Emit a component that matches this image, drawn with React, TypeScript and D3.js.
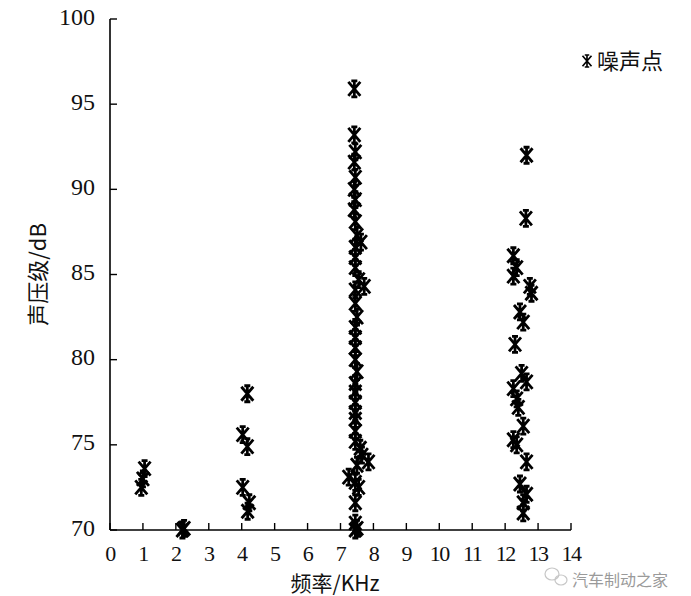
import React from "react";
import * as d3 from "d3";

const xTicks = [0, 1, 2, 3, 4, 5, 6, 7, 8, 9, 10, 11, 12, 13, 14];
const yTicks = [70, 75, 80, 85, 90, 95, 100];

// 噪声点 (frequency kHz, SPL dB)
const freq1 = [0.95, 1.0, 1.05, 2.2, 2.25];
const spl1 = [72.5, 73.0, 73.6, 70.0, 70.1];

const freq2 = [4.17, 4.03, 4.17, 4.03, 4.23, 4.18];
const spl2 = [78.0, 75.6, 74.9, 72.5, 71.6, 71.1];

const freq3 = [
  7.42, 7.42, 7.45, 7.42, 7.45, 7.42, 7.45, 7.42, 7.45, 7.5, 7.62, 7.45, 7.45, 7.45,
  7.55, 7.72, 7.45, 7.45, 7.5, 7.45, 7.45, 7.45, 7.45, 7.5, 7.45, 7.45, 7.45, 7.45,
  7.45, 7.45, 7.45, 7.6, 7.65, 7.85, 7.5, 7.25, 7.45, 7.55, 7.45, 7.45, 7.45, 7.5,
];
const spl3 = [
  95.9, 93.2, 92.2, 91.6, 90.7, 90.0, 89.4, 88.8, 88.1, 87.3, 86.9, 86.6, 86.0, 85.4,
  84.7, 84.3, 84.1, 83.3, 82.5, 81.9, 81.3, 80.7, 80.0, 79.3, 78.6, 78.1, 77.5, 76.9,
  76.5, 75.8, 75.2, 74.8, 74.4, 74.0, 73.8, 73.1, 72.8, 72.5, 71.6, 70.4, 70.0, 70.1,
];

const freq4 = [
  12.65, 12.63, 12.25, 12.35, 12.25, 12.75, 12.8, 12.45, 12.55, 12.3, 12.5, 12.65,
  12.25, 12.35, 12.4, 12.55, 12.25, 12.35, 12.65, 12.45, 12.65, 12.55, 12.55,
];
const spl4 = [
  92.0, 88.3, 86.1, 85.4, 84.9, 84.3, 83.9, 82.8, 82.2, 80.9, 79.2, 78.7, 78.3, 77.7,
  77.2, 76.1, 75.3, 75.0, 74.0, 72.7, 72.1, 71.6, 71.0,
];

const freqs = [...freq1, ...freq2, ...freq3, ...freq4];
const spls = [...spl1, ...spl2, ...spl3, ...spl4];

const W = 691;
const H = 596;
const left = 110;
const right = 571;
const top = 19;
const bottom = 530;

const numFont = "\"Liberation Serif\", \"Times New Roman\", \"DejaVu Serif\", serif";
const cjkFont = "\"Noto Sans CJK SC\", sans-serif";

const markerPath =
  "M-6,-7L6,7M6,-7L-6,7M0,-8L0,8M-3,-8L3,-8M-3,8L3,8";

export default function App() {
  const x = d3.scaleLinear().domain([0, 14]).range([left, right]);
  const y = d3.scaleLinear().domain([70, 100]).range([bottom, top]);

  return (
    <svg
      width={W}
      height={H}
      style={{ position: "absolute", left: 0, top: 0, background: "#fff" }}
    >
      <rect x={0} y={0} width={W} height={H} fill="#fff" />
      {/* axes */}
      <line x1={left} y1={top} x2={left} y2={bottom} stroke="#000" strokeWidth={1.6} />
      <line x1={left} y1={bottom} x2={right} y2={bottom} stroke="#000" strokeWidth={1.6} />
      {yTicks.map((t) => (
        <g key={"y" + t}>
          <line x1={left} x2={left + 7} y1={y(t)} y2={y(t)} stroke="#000" strokeWidth={1.4} />
          <text
            x={95}
            y={y(t)}
            textAnchor="end"
            dominantBaseline="middle"
            style={{ fontFamily: numFont, fontSize: 24 }}
            fill="#111"
          >
            {t}
          </text>
        </g>
      ))}
      {xTicks.map((t) => (
        <g key={"x" + t}>
          <line x1={x(t)} x2={x(t)} y1={bottom} y2={bottom - 7} stroke="#000" strokeWidth={1.4} />
          <text
            x={x(t)}
            y={561}
            textAnchor="middle"
            style={{ fontFamily: numFont, fontSize: 22, letterSpacing: "-1.5px" }}
            fill="#111"
          >
            {t}
          </text>
        </g>
      ))}
      {/* points */}
      {freqs.map((f, i) => (
        <path
          key={"p" + i}
          d={markerPath}
          transform={`translate(${x(f)},${y(spls[i])})`}
          stroke="#000"
          strokeWidth={2.8}
          fill="none"
        />
      ))}
      {/* axis titles */}
      <text
        x={335}
        y={591}
        textAnchor="middle"
        style={{ fontFamily: cjkFont, fontSize: 21 }}
        fill="#111"
      >
        频率/KHz
      </text>
      <text
        transform={`translate(46,${(top + bottom) / 2}) rotate(-90)`}
        textAnchor="middle"
        style={{ fontFamily: cjkFont, fontSize: 22 }}
        fill="#111"
      >
        声压级/dB
      </text>
      {/* legend */}
      <path
        d={markerPath}
        transform="translate(587,61) scale(0.75)"
        stroke="#000"
        strokeWidth={2.2}
        fill="none"
      />
      <text x={597} y={69} style={{ fontFamily: cjkFont, fontSize: 22 }} fill="#111">
        噪声点
      </text>
      {/* watermark */}
      <g opacity={0.55} stroke="#999" fill="none" strokeWidth={1.2}>
        <ellipse cx={552} cy={574} rx={7} ry={6} />
        <ellipse cx={561} cy={580} rx={6} ry={5} />
      </g>
      <text x={572} y={586} style={{ fontFamily: cjkFont, fontSize: 16 }} fill="#9a9a9a">
        汽车制动之家
      </text>
    </svg>
  );
}
